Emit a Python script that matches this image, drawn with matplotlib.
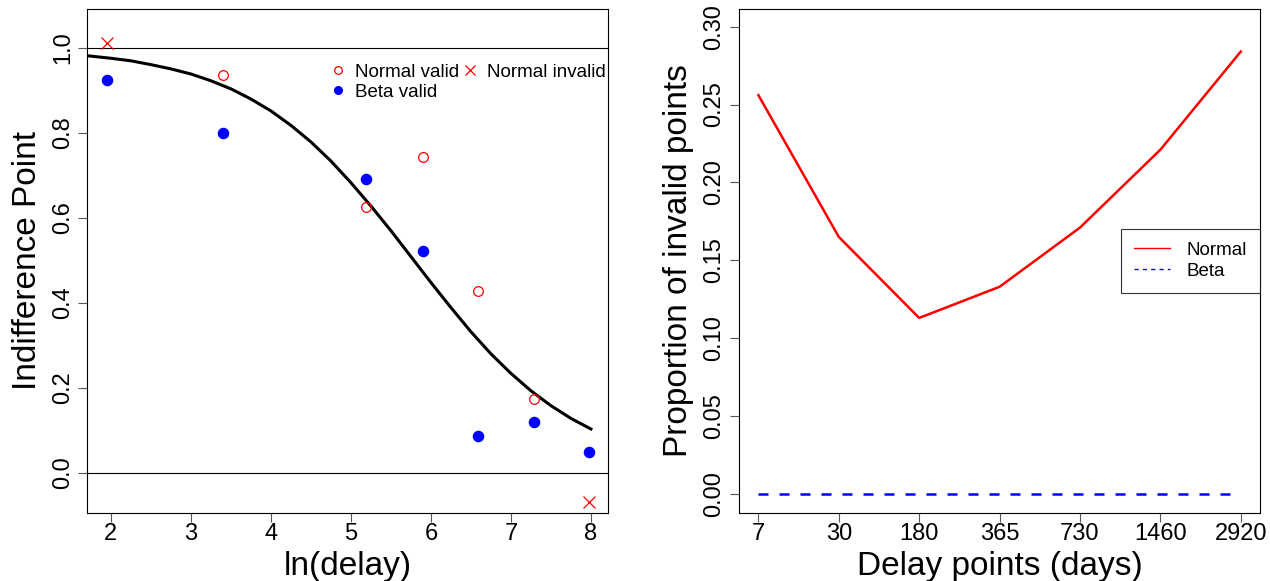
import numpy as np
import matplotlib
matplotlib.use("Agg")
import matplotlib.pyplot as plt
from matplotlib.lines import Line2D

plt.rcParams['font.family'] = ['Liberation Sans', 'DejaVu Sans']

# left panel data (ln of the delay points)
ln_delay = [1.95, 3.40, 5.19, 5.90, 6.59, 7.29, 7.98]
beta_valid = [0.924, 0.800, 0.692, 0.521, 0.087, 0.120, 0.049]
normal_valid_x = [3.40, 5.19, 5.90, 6.59, 7.29]
normal_valid = [0.937, 0.625, 0.744, 0.428, 0.174]
normal_invalid_x = [1.95, 7.98]
normal_invalid = [1.013, -0.070]

# fitted curve
curve_x = [1.70, 2.00, 2.25, 2.50, 2.75, 3.00, 3.25, 3.50, 3.75, 4.00, 4.25, 4.50, 4.75,
           5.00, 5.25, 5.50, 5.75, 6.00, 6.25, 6.50, 6.75, 7.00, 7.25, 7.50, 7.75, 8.00]
curve_y = [0.982, 0.976, 0.970, 0.961, 0.951, 0.939, 0.923, 0.904, 0.880, 0.852, 0.818, 0.779, 0.734,
           0.683, 0.628, 0.570, 0.509, 0.448, 0.389, 0.332, 0.280, 0.234, 0.193, 0.158, 0.128, 0.103]

# right panel data
delay_labels = ['7', '30', '180', '365', '730', '1460', '2920']
normal_prop = [0.256, 0.165, 0.113, 0.133, 0.171, 0.221, 0.284]
beta_prop = [0, 0, 0, 0, 0, 0, 0]

red = '#FF0000'
blue = '#0000FF'
tick_fs = 17
lab_fs = 24

fig = plt.figure(figsize=(12.7, 5.81), dpi=100)
ax1 = fig.add_axes([0.0687, 0.1176, 0.4102, 0.8669])
ax2 = fig.add_axes([0.5817, 0.1176, 0.4105, 0.8669])

# ---- left panel
ax1.axhline(1.0, color='black', lw=0.8)
ax1.axhline(0.0, color='black', lw=0.8)
ax1.plot(curve_x, curve_y, color='black', lw=2.2, solid_joinstyle='round')
ax1.plot(normal_valid_x, normal_valid, 'o', mfc='none', mec=red, ms=7, mew=0.9, ls='none')
ax1.plot(ln_delay, beta_valid, 'o', color=blue, ms=7.3, ls='none')
ax1.plot(normal_invalid_x, normal_invalid, 'x', color=red, ms=8, mew=0.9, ls='none')
ax1.set_xlim(1.704, 8.216)
ax1.set_ylim(-0.094, 1.092)
ax1.set_xticks([2, 3, 4, 5, 6, 7, 8])
ax1.set_yticks([0.0, 0.2, 0.4, 0.6, 0.8, 1.0])
ax1.set_yticklabels(['0.0', '0.2', '0.4', '0.6', '0.8', '1.0'])
ax1.set_xlabel('ln(delay)', fontsize=lab_fs)
ax1.set_ylabel('Indifference Point', fontsize=lab_fs)

handles = [Line2D([], [], marker='o', mfc='none', mec=red, ms=5.5, mew=0.9, ls='none'),
           Line2D([], [], marker='o', color=blue, ms=5.5, ls='none'),
           Line2D([], [], marker='x', color=red, ms=6.5, mew=0.9, ls='none')]
ax1.legend(handles, ['Normal valid', 'Beta valid', 'Normal invalid'], ncol=2,
           loc='upper left', bbox_to_anchor=(0.463, 0.891), frameon=False,
           fontsize=13.5, handlelength=1.0, handletextpad=0.4,
           columnspacing=0.1, labelspacing=0.15, borderpad=0, borderaxespad=0)

# ---- right panel
pos = np.arange(1, len(delay_labels) + 1)
ax2.plot(pos, normal_prop, color=red, lw=1.8)
ax2.plot(pos, beta_prop, color=blue, lw=1.8, ls=(0, (4, 4.4)))
ax2.set_xlim(0.756, 7.24)
ax2.set_ylim(-0.012, 0.3113)
ax2.set_xticks(pos)
ax2.set_xticklabels(delay_labels)
ax2.set_yticks([0.0, 0.05, 0.10, 0.15, 0.20, 0.25, 0.30])
ax2.set_yticklabels(['0.00', '0.05', '0.10', '0.15', '0.20', '0.25', '0.30'])
ax2.set_xlabel('Delay points (days)', fontsize=lab_fs)
ax2.set_ylabel('Proportion of invalid points', fontsize=lab_fs)

leg_handles = [Line2D([], [], color=red, lw=1.0),
               Line2D([], [], color=blue, lw=1.0, ls=(0, (3, 3)))]
leg = ax2.legend(leg_handles, ['Normal', 'Beta'], loc='center right',
                 bbox_to_anchor=(1.0, 0.5), fontsize=13.5, handlelength=1.9,
                 handletextpad=0.9, labelspacing=0.2, borderpad=0.7,
                 borderaxespad=0, fancybox=False)
leg.get_frame().set_edgecolor('black')
leg.get_frame().set_linewidth(0.8)

for ax in (ax1, ax2):
    for s in ax.spines.values():
        s.set_linewidth(0.8)
    ax.tick_params(axis='both', labelsize=tick_fs, length=6.5, width=0.8, color='#555555')
    ax.tick_params(axis='x', pad=1)
    ax.tick_params(axis='y', pad=3)
    for lab in ax.get_yticklabels():
        lab.set_rotation(90)
        lab.set_va('center')
    ax.yaxis.set_label_coords(-0.085, 0.5)
    ax.xaxis.set_label_coords(0.5, -0.077)

fig.savefig('out.png', dpi=100)
